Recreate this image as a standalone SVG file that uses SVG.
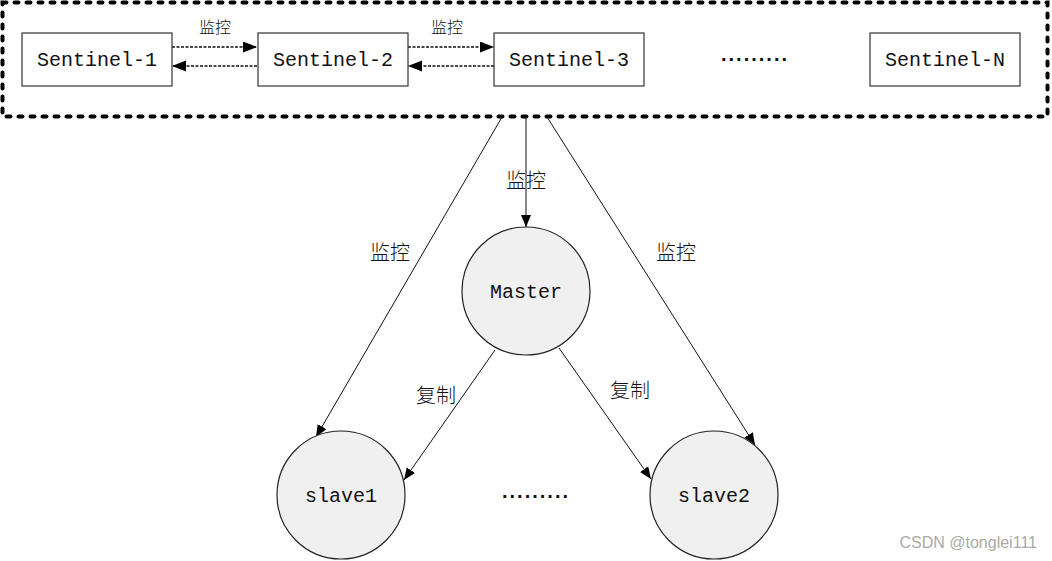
<svg xmlns="http://www.w3.org/2000/svg" width="1052" height="561" viewBox="0 0 1052 561">
<style>
.box{fill:#fff;stroke:#333;stroke-width:1.2}
.circ{fill:#f0f0f0;stroke:#222;stroke-width:1.2}
.mono{font-family:"Liberation Mono","Noto Sans CJK SC",monospace;font-size:20px;fill:#111;text-anchor:middle}
.cn{font-family:"Noto Sans CJK SC",sans-serif;font-size:20px;font-weight:300;fill:#111;text-anchor:middle}
.cns{font-family:"Noto Sans CJK SC",sans-serif;font-size:16px;font-weight:300;fill:#111;text-anchor:middle}
.ln{stroke:#111;stroke-width:1;fill:none}
.dot{stroke:#111;stroke-width:1.3;fill:none;stroke-dasharray:3 1.5}
.ell{font-family:"Liberation Sans",sans-serif;font-weight:bold;font-size:20px;letter-spacing:2px;fill:#111}
</style>
<defs>
<marker id="ah" markerUnits="userSpaceOnUse" markerWidth="14" markerHeight="12" refX="12" refY="5" orient="auto">
<path d="M0,0 L12,5 L0,10 Z" fill="#000"/>
</marker>
<marker id="ah2" markerUnits="userSpaceOnUse" markerWidth="16" markerHeight="12" refX="14" refY="5.5" orient="auto">
<path d="M0,0 L14,5.5 L0,11 Z" fill="#000"/>
</marker>
</defs>
<rect x="0" y="0" width="1052" height="561" fill="#fff"/>
<rect id="sentinel-group" x="2.5" y="2.5" width="1045" height="114" fill="none" stroke="#000" stroke-width="4" stroke-dasharray="4 8" stroke-linecap="round"/>
<g id="connectors">
<line class="dot" x1="172" y1="47" x2="257" y2="47" marker-end="url(#ah2)"/>
<line class="dot" x1="257" y1="66" x2="172" y2="66" marker-end="url(#ah2)"/>
<line class="dot" x1="408" y1="47" x2="494" y2="47" marker-end="url(#ah2)"/>
<line class="dot" x1="494" y1="66" x2="408" y2="66" marker-end="url(#ah2)"/>
<line class="ln" x1="526" y1="117" x2="526" y2="227" marker-end="url(#ah)"/>
<line class="ln" x1="502" y1="117" x2="316" y2="437" marker-end="url(#ah)"/>
<line class="ln" x1="547" y1="117" x2="755" y2="445" marker-end="url(#ah)"/>
<line class="ln" x1="495" y1="350" x2="404" y2="480" marker-end="url(#ah)"/>
<line class="ln" x1="559" y1="348" x2="651" y2="479" marker-end="url(#ah)"/>
<text class="cns" x="215" y="33">监控</text>
<text class="cns" x="447" y="33">监控</text>
<text class="cn" x="526" y="188">监控</text>
<text class="cn" x="390" y="260">监控</text>
<text class="cn" x="676" y="260">监控</text>
<text class="cn" x="436" y="403">复制</text>
<text class="cn" x="630" y="398">复制</text>
</g>
<g id="sentinel-1"><rect class="box" x="22" y="33" width="150" height="53"/><text class="mono" x="97" y="66">Sentinel-1</text></g>
<g id="sentinel-2"><rect class="box" x="258" y="33" width="150" height="53"/><text class="mono" x="333" y="66">Sentinel-2</text></g>
<g id="sentinel-3"><rect class="box" x="494" y="33" width="150" height="53"/><text class="mono" x="569" y="66">Sentinel-3</text></g>
<g id="sentinel-dots"><text class="ell" x="721" y="61">.........</text></g>
<g id="sentinel-n"><rect class="box" x="870" y="33" width="150" height="53"/><text class="mono" x="945" y="66">Sentinel-N</text></g>
<g id="master"><circle class="circ" cx="526" cy="291" r="64"/><text class="mono" x="526" y="298">Master</text></g>
<g id="slave1"><circle class="circ" cx="341" cy="495" r="64"/><text class="mono" x="341" y="502">slave1</text></g>
<g id="slave-dots"><text class="ell" x="502" y="498">.........</text></g>
<g id="slave2"><circle class="circ" cx="714" cy="495" r="64"/><text class="mono" x="714" y="502">slave2</text></g>
<text x="1037" y="548" font-family="Liberation Sans,sans-serif" font-size="16" fill="#aaa" text-anchor="end">CSDN @tonglei111</text>
</svg>
